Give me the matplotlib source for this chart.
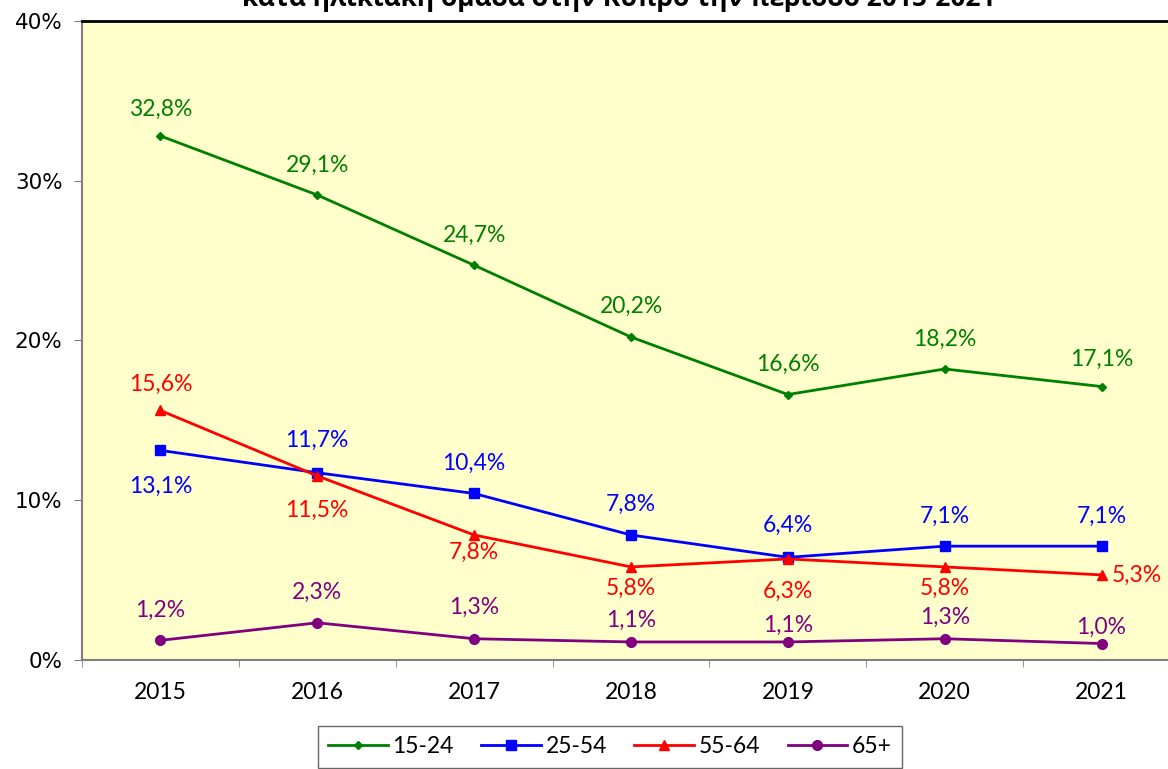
import matplotlib.pyplot as plt
import numpy as np
from matplotlib.ticker import MultipleLocator, FuncFormatter

years = ['2015', '2016', '2017', '2018', '2019', '2020', '2021']
age_15_24 = [32.8, 29.1, 24.7, 20.2, 16.6, 18.2, 17.1]
age_25_54 = [13.1, 11.7, 10.4, 7.8, 6.4, 7.1, 7.1]
age_55_64 = [15.6, 11.5, 7.8, 5.8, 6.3, 5.8, 5.3]
age_65 = [1.2, 2.3, 1.3, 1.1, 1.1, 1.3, 1.0]

# vertical offset (px) of each data label centre from its point, None = right side
dy_15_24 = [27, 30, 30, 31, 30, 30, 27]
dy_25_54 = [-36, 32, 30, 31, 32, 30, 30]
dy_55_64 = [26, -34, -17, -21, -32, -21, None]
dy_65 = [30, 30, 31, 22, 17, 21, 16]

font = 'Lato'
fs = 16.5
fig = plt.figure(figsize=(11.68, 7.69), dpi=100)
# axes right edge runs slightly past the figure like the original
ax = fig.add_axes([82/1168, (769-659.5)/769, (1180-82)/1168, (659.5-21)/769])
ax.set_facecolor('#FFFFCC')

x = np.arange(len(years))
series = [
    ('15-24', age_15_24, '#008000', 'D', 4.5, dy_15_24),
    ('25-54', age_25_54, '#0000FF', 's', 6.5, dy_25_54),
    ('55-64', age_55_64, '#FF0000', '^', 6.5, dy_55_64),
    ('65+', age_65, '#800080', 'o', 7, dy_65),
]
for name, vals, col, mk, ms, dys in series:
    ax.plot(x, vals, color=col, lw=2, marker=mk, ms=ms, label=name)
    for xi, v, d in zip(x, vals, dys):
        txt = ('%.1f%%' % v).replace('.', ',')
        if d is None:
            ax.annotate(txt, (xi, v), xytext=(7, 0), textcoords='offset points',
                        ha='left', va='center', color=col, fontsize=fs, family=font)
        else:
            ax.annotate(txt, (xi, v), xytext=(0, d*0.72), textcoords='offset points',
                        ha='center', va='center', color=col, fontsize=fs, family=font)

ax.set_xlim(-0.5, 6.5)
ax.set_ylim(0, 40)
ax.yaxis.set_major_locator(MultipleLocator(10))
ax.yaxis.set_major_formatter(FuncFormatter(lambda v, p: '%d%%' % v))
ax.set_xticks(x)
ax.set_xticklabels(years, family=font, fontsize=fs)
ax.set_xticks(np.arange(-0.5, 7, 1), minor=True)
ax.tick_params(axis='x', which='major', length=0, pad=16)
ax.tick_params(axis='x', which='minor', length=5, color='#808080', direction='out')
ax.tick_params(axis='y', length=6, color='#808080', labelsize=15.5, pad=8)
for lab in ax.get_yticklabels():
    lab.set_family('DejaVu Sans')

ax.spines['top'].set_color('black')
ax.spines['top'].set_linewidth(2)
ax.spines['right'].set_visible(False)
ax.spines['left'].set_color('#808080')
ax.spines['bottom'].set_color('#808080')
ax.spines['left'].set_linewidth(1.5)
ax.spines['bottom'].set_linewidth(1.5)

fig.text(0.53, 1.002, 'κατά ηλικιακή ομάδα στην Κύπρο την περίοδο 2015-2021',
         ha='center', va='center', fontsize=19, fontweight='bold', family='Open Sans')

leg = fig.legend(loc='upper left', bbox_to_anchor=(318/1168, 1-726/769), ncol=4,
                 frameon=True, fancybox=False, edgecolor='#404040',
                 prop={'family': font, 'size': fs}, handlelength=2.6,
                 columnspacing=1.2, handletextpad=0.2, borderpad=0.45,
                 borderaxespad=0)
leg.get_frame().set_linewidth(1)

plt.savefig('out.png', dpi=100)
